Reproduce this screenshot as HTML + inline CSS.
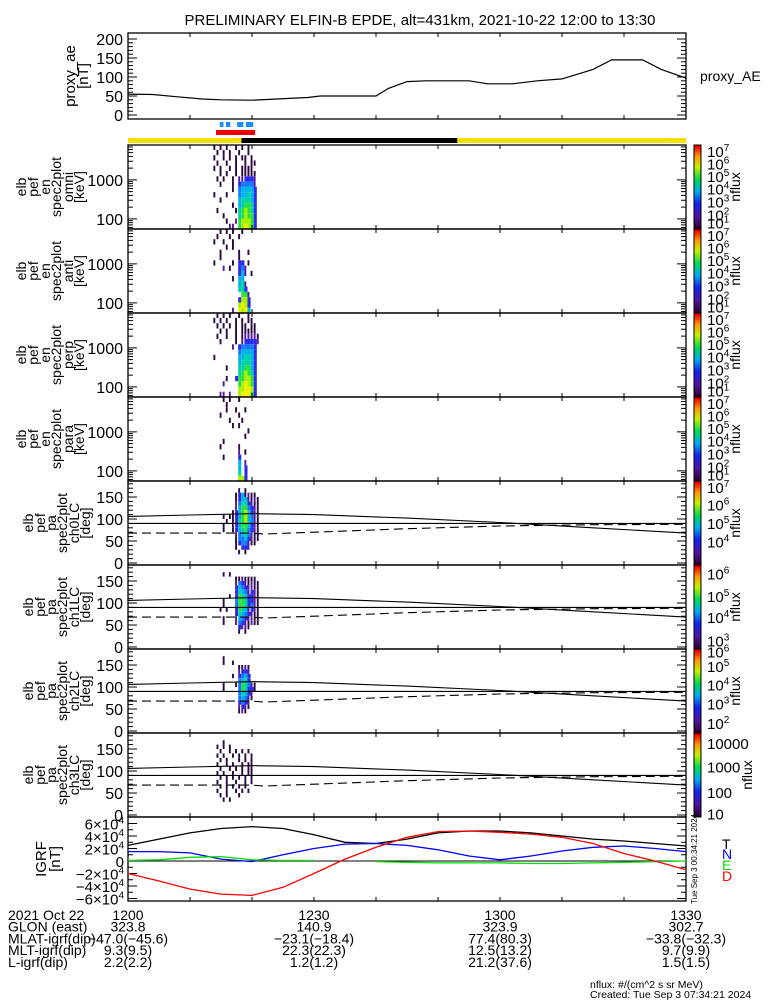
<!DOCTYPE html>
<html><head><meta charset="utf-8"><style>
html,body{margin:0;padding:0;background:#fff;overflow:hidden;}
svg{display:block;font-family:"Liberation Sans",sans-serif;}
</style></head><body>
<svg id="fig" width="775" height="1000" viewBox="0 0 775 1000" xmlns="http://www.w3.org/2000/svg">
<text x="420" y="25" font-size="15" text-anchor="middle">PRELIMINARY ELFIN-B EPDE, alt=431km, 2021-10-22 12:00 to 13:30</text>
</svg>
<script>
// ---------- data ----------
const aeTimes = [0,4,8,12,15,20,24,29,31,40,42,45,48,55,58,62,66,70,75,78,83,86,90];
const aeValues = [55,54,48,42,40,39,42,46,50,50,70,88,90,90,82,82,90,95,120,145,145,120,97];
const igrfTimes = [0,5,10,15,20,25,30,35,40,45,50,55,60,65,70,75,80,85,90];
const igrfT = [25,35,45,52,55,52,42,30,28,35,45,48,48,45,40,35,32,28,24];
const igrfN = [15,15,13,3,-1,10,20,27,28,25,18,8,2,8,16,22,24,20,15];
const igrfE = [1,2,6,7,2,1,1,null,-1,-2,-3,-3,-3,-4,-4,-3,-2,-1,0];
const igrfD = [-20,-32,-45,-53,-55,-42,-20,3,22,38,47,48,46,43,38,28,12,0,-14];
const specTimes = [14,14.5,15,15.5,16,16.5,17,17.5,18,18.5,19,19.5,20,20.5,21,21.5];
const energyEdges = [55,8000];
const specOmni = [
"1.1.1..1.1.1....",".1.1.1..1..1....","1..1.1.1.11.1...",".1..1..1..1.11..",
"1.1..1.1.1111...","..1.1..1.11111..",".1.1..1.223332..","..1...1.344442..",
"......1.455553..","1...1...455653..","..1.....566653..","......1.567763..",
".1.....1678763..","...1....678773..","....1..2788873..",".....22.789873.."];
const specAnt = [
"..1.1.1..1......",".1...1..1.......","1..1..1.........","....1.1.........",
"..1.....1..1....","..1.....1.......","1.....1.33.1....","...2.1..342.....",
"........352.1...","......1.55......","........562.....","........663.....",
".........772....","........3883....","........8983....","......2.9895....."];
const specPerp = [
".1.1.1..1..1....","1.1.1..1.1.11...",".1.1.1.1.11.11..","..1.1..1.11111..",
".1..1..1.122221.","..1....1.233332.","......2.344443..","........455553..",
"1.......556653..","........566653..","....1...667753..","........678763..",
"....1..3778873..","...2....789873..","........889983..","..22.2..899973.."];
const specPara = [
"...1.1..1.......","....1...........","....1..1..1.....","..1.....1.......",
".....1...1......","......1.1.......","...........1....","..........1.....",
"...1............","..1.....1.......","........2.1.....","...1....3.......",
"........5.2.....","........5.3.....","........6.3.....","........883....."];
const paEdges = [0,180];
const paCh0 = [
"................","........1.1.....",".......1351211..",".......13552121.",
".......24663211.",".......25774321.","......135785321.","...1.1135785421.",
"....1.136785421.","...1..135775321.","...1..135674321.",".......24564211.",
".......14453211.",".......1344211..",".......1.332....","........1.1.....",
"................","................"];
const paCh1 = [
"................","...1.1..........",".......1121111..",".......24321211.",
".......35432211.",".......36542321.",".....1.37653321.","...1...47763321.",
"...1...47763421.","..1.1..37652321.",".......36543211.","...1...25432211.",
"...1...24321211.","........3221....","........1.1.....","................",
"................","................"];
const paCh2 = [
"................","...1............","...1..1.........","........1121....",
"........2332....","......1.3453....","........4563....","...1...1476421..",
"...1....476331..","........46532...","........45421...","........3432....",
"........2321....","........121.....","................","................",
"................","................"];
const paCh3 = [
"................","...1............",".1.1.1..........","..1..1.1.1.1....",
".1.1..1.1.1.1...","..1.1...1.1.1...",".1..1.1..1.11...","..1..1.1.1.11...",
".1.1..1..1.11...","..1.1.1.1.1.1...",".1..1..1..1.1...","..1.1.1.1.1.....",
".1..1..1.1.1....","..1.1...1.......","...1.1..........","................",
"................","................"];
const paSolidTimes = [0,10,20,30,45,60,75,90];
const paSolid = [106,109,112,110,102,92,80,68];
const paDashTimes = [0,15,20,22,30,45,60,75,90];
const paDash = [68,68,68,66,70,78,84,87,88];
const bottomRowLabels = ["2021 Oct 22","GLON (east)","MLAT-igrf(dip)","MLT-igrf(dip)","L-igrf(dip)"];
const bottomTimes = [0,30,60,90];
const bottomCols = [
["1200","323.8","-47.0(-45.6)","9.3(9.5)","2.2(2.2)"],
["1230","140.9","-23.1(-18.4)","22.3(22.3)","1.2(1.2)"],
["1300","323.9","77.4(80.3)","12.5(13.2)","21.2(37.6)"],
["1330","302.7","-33.8(-32.3)","9.7(9.9)","1.5(1.5)"]];

// ---------- helpers ----------
const NS="http://www.w3.org/2000/svg";
const svg=document.getElementById('fig');
const X0=128,X1=686;
function xT(m){return X0+m*(X1-X0)/90;}
function el(tag,attrs,parent){const e=document.createElementNS(NS,tag);for(const k in attrs)e.setAttribute(k,attrs[k]);(parent||svg).appendChild(e);return e;}
function line(x1,y1,x2,y2,c,w,dash){const l=el('line',{x1,y1,x2,y2,stroke:c||'#000','stroke-width':w||1});if(dash)l.setAttribute('stroke-dasharray',dash);return l;}
function txt(x,y,s,size,anchor,fill){const t=el('text',{x,y,'font-size':size||14,'text-anchor':anchor||'start',fill:fill||'#000'});t.textContent=s;return t;}
const levelColors=['#fff','#2a0a40','#55189a','#2a2ae8','#1478ff','#00b4e6','#00d2a5','#28e040','#a8f000','#f2f000'];
function cbColor(f){const st=[[0,[40,0,50]],[0.15,[80,20,160]],[0.3,[20,30,240]],[0.45,[0,170,240]],[0.6,[0,220,80]],[0.75,[200,240,0]],[0.88,[255,150,0]],[1,[240,0,0]]];
 for(let i=1;i<st.length;i++){if(f<=st[i][0]){const a=st[i-1],b=st[i];const t=(f-a[0])/(b[0]-a[0]);return 'rgb('+a[1].map((v,j)=>Math.round(v+(b[1][j]-v)*t)).join(',')+')';}}return 'rgb(240,0,0)';}

function frame(top,h,name){
  const r=el('rect',{x:X0,y:top,width:X1-X0,height:h,fill:'none',stroke:'#000','stroke-width':1.3});
  
  for(let m=10;m<90;m+=10){line(xT(m),top+h,xT(m),top+h-4);line(xT(m),top,xT(m),top+4);}
}
function rotLabel(lines,xs,cy,size,name){
  const g=el('g',{});
  lines.forEach((s,i)=>{const t=el('text',{x:0,y:0,'font-size':size,'text-anchor':'middle',transform:`translate(${xs[i]},${cy}) rotate(-90)`},g);t.textContent=s;});
}
function yTicksLin(top,h,yf,vmin,vmax,major,minor,labels){
  for(let v=vmin;v<=vmax+1e-6;v+=minor){const y=yf(v);if(y<top-0.5||y>top+h+0.5)continue;const isM=Math.abs(v/major-Math.round(v/major))<1e-6;const L=isM?9:5;line(X0,y,X0+L,y);line(X1,y,X1-L,y);}
  labels.forEach(v=>{const t=txt(X0-5,yf(v)+6,String(v),16,'end');});
}

// ---------- proxy AE panel ----------
const aeTop=33,aeH=86;
const yAE=v=>115-v*0.38;
frame(aeTop,aeH,'proxy-ae-panel');
yTicksLin(aeTop,aeH,yAE,0,200,50,10,[0,50,100,150,200]);
const aePts=aeTimes.map((t,i)=>xT(t).toFixed(1)+','+yAE(aeValues[i]).toFixed(1)).join(' ');
const aeLine=el('polyline',{points:aePts,fill:'none',stroke:'#000','stroke-width':1.2});


rotLabel(['proxy_ae','[nT]'],[75,88],76,15,'proxy-ae-axis-title');
{const t=txt(700,81,'proxy_AE',14);}

// ---------- status bars ----------
[[14.8,15.4],[15.8,16.5],[17.6,18.6],[19.0,20.2]].forEach(s=>{const r=el('rect',{x:xT(s[0]),y:122,width:xT(s[1])-xT(s[0]),height:5,fill:'#1a8cff'});});
{const r=el('rect',{x:xT(14.2),y:130,width:xT(20.5)-xT(14.2),height:5,fill:'#ee0000'});}
{const r=el('rect',{x:X0,y:138,width:X1-X0,height:5,fill:'#f8e000'});}
{const r=el('rect',{x:xT(18.3),y:138,width:xT(53.1)-xT(18.3),height:5,fill:'#000'});}

// ---------- colorbars ----------
function colorbar(top,h,labels,name,nfluxX){
  const g=el('g',{});
  const n=40;for(let i=0;i<n;i++){el('rect',{x:694,y:top+h-(i+1)*h/n,width:7,height:h/n+0.5,fill:cbColor(i/(n-1))},g);}
  el('rect',{x:694,y:top,width:7,height:h,fill:'none',stroke:'#000','stroke-width':1},g);
  labels.forEach(l=>{const y=top+h-l[1]*h;const t=el('text',{x:707,y:y+6,'font-size':15},g);
    if(l[0].startsWith('^')){t.textContent='10';const s=el('tspan',{dy:-6,'font-size':10},t);s.textContent=l[0].slice(1);}else t.textContent=l[0];});
  const t=el('text',{x:0,y:0,'font-size':14,'text-anchor':'middle',transform:`translate(${nfluxX},${top+h/2}) rotate(-90)`},g);t.textContent='nflux';
}
const cbLabels7=[['^7',0.93],['^6',0.78],['^5',0.63],['^4',0.48],['^3',0.33],['^2',0.17],['^1',0.08]];

// ---------- spectrogram panels ----------
const tops=[145,229,313,397,481,565,649,733];
const PH=84;
const colW=(xT(0.5)-xT(0));
function yE(top,E){return top+PH-(Math.log10(E)-Math.log10(energyEdges[0]))*39;}
function drawCells(rows,top,yEdge,nameP){
  const nR=rows.length;
  rows.forEach((row,ri)=>{
    const vHi=(nR-ri)/nR, vLo=(nR-ri-1)/nR;
    const y1=yEdge(top,vHi), y2=yEdge(top,vLo);
    for(let ci=0;ci<row.length;ci++){const c=row[ci];if(c==='.'||c===' ')continue;
      const r=el('rect',{x:(xT(specTimes[ci])-colW*0.45).toFixed(1),y:y1.toFixed(1),width:(colW*(c>'2'?1:0.6)).toFixed(1),height:(y2-y1).toFixed(1),fill:levelColors[+c]});
      
      }
  });
}
const specE=(top,f)=>yE(top,energyEdges[0]*Math.pow(energyEdges[1]/energyEdges[0],f));
const specPanels=[[specOmni,'omni'],[specAnt,'anti'],[specPerp,'perp'],[specPara,'para']];
specPanels.forEach((p,i)=>{
  const top=tops[i];
  drawCells(p[0],top,specE,'spec-'+p[1]);
  frame(top,PH,'spec-'+p[1]+'-panel');
  for(let d=1;d<=3;d++)for(let k=1;k<10;k++){const E=Math.pow(10,d)*k;const y=yE(top,E);if(y<top||y>top+PH)continue;const L=k===1?9:5;line(X0,y,X0+L,y);line(X1,y,X1-L,y);}
  [1000,100].forEach(v=>{const t=txt(X0-5,yE(top,v)+6,String(v),16,'end');});
  rotLabel(['elb','pef','en','spec2plot',p[1],'[keV]'],[26,38,50,61,73,84],top+PH/2,14,'spec-'+p[1]+'-axis-title');
  colorbar(top,PH,cbLabels7,'colorbar-'+p[1],740);
});

// ---------- pitch angle panels ----------
function yPA(top,v){return top+PH-2-v*0.44;}
const paSpecE=(top,f)=>yPA(top,paEdges[0]+(paEdges[1]-paEdges[0])*f);
const paPanels=[[paCh0,'ch0LC'],[paCh1,'ch1LC'],[paCh2,'ch2LC'],[paCh3,'ch3LC']];
const paCb=[
 [['^7',0.93],['^6',0.72],['^5',0.5],['^4',0.28]],
 [['^6',0.9],['^5',0.63],['^4',0.38],['^3',0.1]],
 [['^6',0.97],['^5',0.8],['^4',0.58],['^3',0.35],['^2',0.12]],
 [['10000',0.88],['1000',0.6],['100',0.3],['10',0.04]]];
paPanels.forEach((p,i)=>{
  const top=tops[4+i];
  drawCells(p[0],top,paSpecE,'pa-'+p[1]);
  frame(top,PH,'pa-'+p[1]+'-panel');
  yTicksLin(top,PH,v=>yPA(top,v),0,180,50,10,[0,50,100,150]);
  line(X0,yPA(top,90),X1,yPA(top,90),'#000',1.1);
  const s=el('polyline',{points:paSolidTimes.map((t,j)=>xT(t).toFixed(1)+','+yPA(top,paSolid[j]).toFixed(1)).join(' '),fill:'none',stroke:'#000','stroke-width':1.1});
  
  
  const d=el('polyline',{points:paDashTimes.map((t,j)=>xT(t).toFixed(1)+','+yPA(top,paDash[j]).toFixed(1)).join(' '),fill:'none',stroke:'#000','stroke-width':1.1,'stroke-dasharray':'9,5'});
  
  
  rotLabel(['elb','pef','pa','spec2plot',p[1],'[deg]'],[33,45,56,67,79,90],top+PH/2,14,'pa-'+p[1]+'-axis-title');
  colorbar(top,PH,paCb[i],'colorbar-'+p[1],i===3?752:740);
});

// ---------- IGRF panel (values in units of 1000 nT) ----------
const iTop=817,iH=84;
const yI=vk=>861-vk*37.5/60;
frame(iTop,iH,'igrf-panel');
for(let v=-60;v<=60;v+=10){const y=yI(v);if(y<iTop||y>iTop+iH)continue;const M=v%20===0;line(X0,y,X0+(M?9:5),y);line(X1,y,X1-(M?9:5),y);}
line(X0,yI(0),X1,yI(0),'#000',1.1);
[60,40,20,0,-20,-40,-60].forEach(v=>{const y=yI(v)+6;const t=el('text',{x:X0-4,y,'font-size':15,'text-anchor':'end'});
 
 
 if(v===0){t.textContent='0';}else{t.textContent=(v<0?'\u2212':'')+Math.abs(v/10)+'\u00d710';const s=el('tspan',{dy:-6,'font-size':10},t);s.textContent='4';}});
function igrfLine(vals,c,name){
  let seg=[];const segs=[];
  vals.forEach((v,j)=>{if(v===null){if(seg.length)segs.push(seg);seg=[];}else seg.push(xT(igrfTimes[j]).toFixed(1)+','+yI(v).toFixed(1));});
  if(seg.length)segs.push(seg);
  segs.forEach(s=>{const p=el('polyline',{points:s.join(' '),fill:'none',stroke:c,'stroke-width':1.3});
   
   });
}
igrfLine(igrfT,'#000','igrf-total-line');
igrfLine(igrfN,'#0000ff','igrf-north-line');
igrfLine(igrfE,'#00e000','igrf-east-line');
igrfLine(igrfD,'#ff0000','igrf-down-line');
rotLabel(['IGRF','[nT]'],[46,60],859,15,'igrf-axis-title');
[['T','#000',843],['N','#0000ff',853],['E','#00e000',864],['D','#ff0000',875]].forEach(l=>{const t=txt(722,l[2]+6,l[0],14,'start',l[1]);});
{const t=el('text',{x:0,y:0,'font-size':8,'text-anchor':'middle',transform:'translate(697,859) rotate(-90)'});t.textContent='Tue Sep  3 00:34:21 2024';}

// ---------- bottom annotation ----------
bottomRowLabels.forEach((s,i)=>{const t=txt(8,920+i*11.7,s,14);});
bottomCols.forEach((col,ci)=>col.forEach((s,i)=>{const t=txt(xT(bottomTimes[ci]),920+i*11.7,s.replace(/-/g,'\u2212'),14,'middle');}));
{const t=txt(590,988,'nflux: #/(cm^2 s sr MeV)',10.5);}
{const t=txt(590,998,'Created: Tue Sep  3 07:34:21 2024',10.5);}
</script>
</body></html>
